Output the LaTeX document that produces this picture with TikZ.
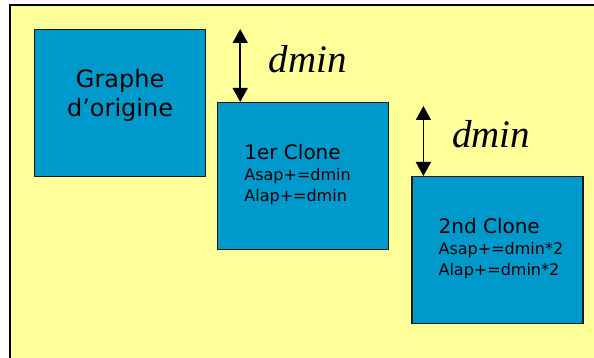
\documentclass[tikz,border=0pt]{standalone}
\usepackage{fontspec}
\setmainfont{DejaVu Sans}
\newfontfamily\dminfont{Liberation Serif}
\usetikzlibrary{arrows.meta,positioning}

\definecolor{fondjaune}{HTML}{FFFF99}
\definecolor{bleugraphe}{HTML}{0099CC}

\begin{document}
\begin{tikzpicture}[x=1pt,y=-1pt,
	graphe/.style={draw=black!90,line width=1.2pt,fill=bleugraphe,
		minimum width=171pt,minimum height=147pt,inner sep=0pt},
	titre/.style={font=\fontsize{24}{29}\selectfont,align=center,inner sep=0pt},
	clonetxt/.style={font=\fontsize{16}{21}\selectfont,align=left,inner sep=0pt},
	ecart/.style={line width=1.5pt,
		{Triangle[length=14pt,width=15pt]}-{Triangle[length=14pt,width=15pt]}},
	dminlabel/.style={font=\dminfont\itshape\fontsize{39}{40}\selectfont,
		anchor=base west,inner sep=0pt,xshift=28pt,yshift=-7pt}]
	\clip (0,0) rectangle (594,358);
	% fond
	\draw[line width=2pt,fill=fondjaune] (10,5) rectangle (620,380);

	% graphe et clones
	\node[graphe,anchor=north west] (orig) at (34,29) {};
	\node[graphe,below right=73pt and 11pt of orig.north east] (clone1) {};
	\node[graphe,below right=74pt and 22pt of clone1.north east] (clone2) {};

	\node[titre,below=40pt of orig.north] (origtxt) {Graphe\\d’origine};
	\node[clonetxt,below right=42pt and 27pt of clone1.north west] (clone1txt)
		{{\fontsize{20}{21}\selectfont 1er Clone}\\Asap+=dmin\\Alap+=dmin};
	\node[clonetxt,below right=42pt and 27pt of clone2.north west] (clone2txt)
		{{\fontsize{20}{21}\selectfont 2nd Clone}\\Asap+=dmin*2\\Alap+=dmin*2};

	% decalages
	\draw[ecart] ([xshift=23pt]clone1.north west |- orig.north)
		-- ([xshift=23pt]clone1.north west) node[dminlabel,midway] (d1) {dmin};
	\draw[ecart] ([xshift=12pt,yshift=-4pt]clone2.north west |- clone1.north)
		-- ([xshift=12pt]clone2.north west) node[dminlabel,midway] (d2) {dmin};
\end{tikzpicture}
\end{document}
